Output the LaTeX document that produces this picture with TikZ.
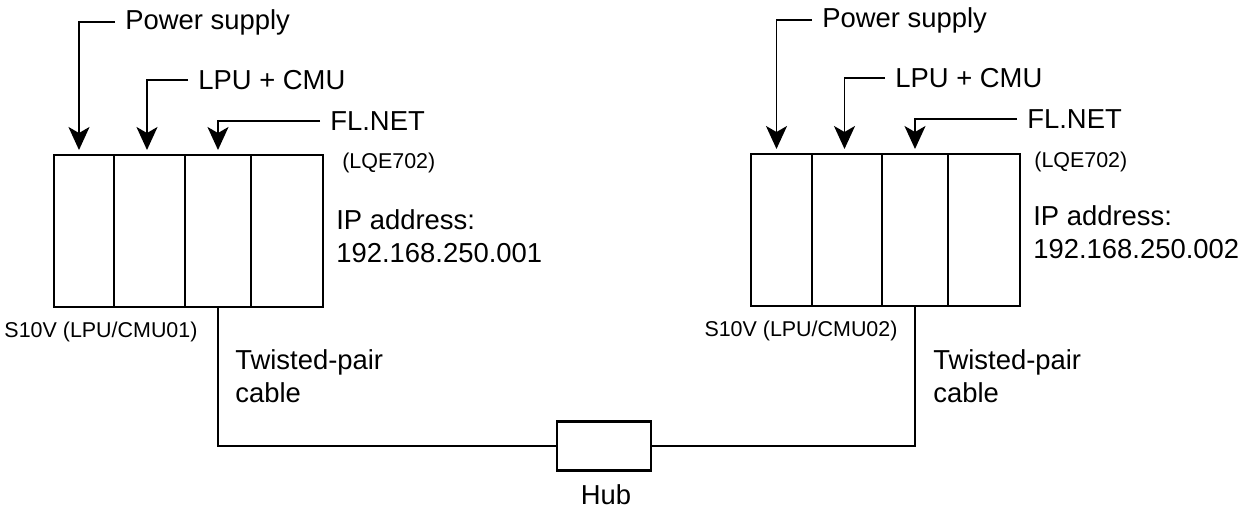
\documentclass[tikz,border=0pt]{standalone}
\usepackage{fontspec}
\setmainfont{Liberation Sans}
\usetikzlibrary{positioning,arrows.meta}
\tikzset{
  slot/.style={draw=black, line width=1.2pt, inner sep=0pt, outer sep=0pt, minimum height=3.04cm},
  feed/.style={draw=black, line width=1.1pt, -{Stealth[length=0.46cm,width=0.42cm,inset=0.12cm]}, shorten >=0.1cm},
  wire/.style={draw=black, line width=1.1pt},
  callout/.style={font=\fontsize{15.6}{18.7}\selectfont, anchor=west, inner sep=0.2cm},
  bigtext/.style={font=\fontsize{15.6}{18.7}\selectfont, inner sep=0pt, align=left},
  smalltext/.style={font=\fontsize{12.2}{14.6}\selectfont, inner sep=0pt},
  hubbox/.style={draw=black, line width=1.2pt, minimum width=1.88cm, minimum height=0.98cm, inner sep=0pt},
}

\begin{document}
\begin{tikzpicture}
\useasboundingbox (0,0) rectangle (25.2,10.18);
% unit 01
\node[slot, minimum width=1.20cm] (a1) at (1.68,5.56) {};
\node[slot, minimum width=1.42cm, right=0pt of a1] (a2) {};
\node[slot, minimum width=1.32cm, right=0pt of a2] (a3) {};
\node[slot, minimum width=1.44cm, right=0pt of a3] (a4) {};
\node[callout] (psa) at (2.30,9.74) {Power supply};
\node[callout] (lca) at (3.76,8.58) {LPU + CMU};
\node[callout] (fla) at (6.40,7.76) {FL.NET};
\draw[feed] (psa.west) -| ([xshift=-0.1cm]a1.north);
\draw[feed] (lca.west) -| ([xshift=-0.05cm]a2.north);
\draw[feed] (fla.west) -| (a3.north);
\node[smalltext, anchor=west] (lqa) at (6.84,6.92) {(LQE702)};
\node[bigtext, anchor=west] (ipa) at (6.72,5.45) {IP address:\\192.168.250.001};
\node[smalltext] (s10a) at (2.02,3.54) {S10V (LPU/CMU01)};
\node[bigtext, anchor=west] (tpa) at (4.70,2.66) {Twisted-pair\\cable};
% unit 02
\node[slot, minimum width=1.22cm] (b1) at (15.63,5.58) {};
\node[slot, minimum width=1.40cm, right=0pt of b1] (b2) {};
\node[slot, minimum width=1.32cm, right=0pt of b2] (b3) {};
\node[slot, minimum width=1.44cm, right=0pt of b3] (b4) {};
\node[callout] (psb) at (16.24,9.78) {Power supply};
\node[callout] (lcb) at (17.70,8.62) {LPU + CMU};
\node[callout] (flb) at (20.34,7.80) {FL.NET};
\draw[feed] (psb.west) -| ([xshift=-0.1cm]b1.north);
\draw[feed] (lcb.west) -| ([xshift=-0.05cm]b2.north);
\draw[feed] (flb.west) -| (b3.north);
\node[smalltext, anchor=west] (lqb) at (20.68,6.94) {(LQE702)};
\node[bigtext, anchor=west] (ipb) at (20.66,5.53) {IP address:\\192.168.250.002};
\node[smalltext] (s10b) at (16.02,3.56) {S10V (LPU/CMU02)};
\node[bigtext, anchor=west] (tpb) at (18.66,2.66) {Twisted-pair\\cable};
% hub
\node[hubbox] (hub) at (12.08,1.26) {};
\node[bigtext] (hubl) at (12.12,0.28) {Hub};
\draw[wire] (a3.south) |- (hub.west);
\draw[wire] (b3.south) |- (hub.east);
\end{tikzpicture}
\end{document}
